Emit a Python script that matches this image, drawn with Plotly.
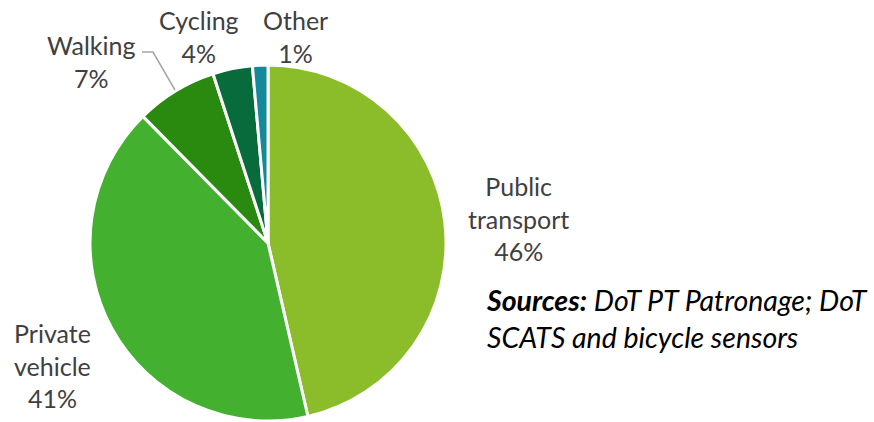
import plotly.graph_objects as go

categories = ["Public transport", "Private vehicle", "Walking", "Cycling", "Other"]
label_lines = [["Public", "transport"], ["Private", "vehicle"], ["Walking"], ["Cycling"], ["Other"]]
values = [46.4, 41.2, 7.4, 3.6, 1.4]
colors = ["#8BBC29", "#44B02F", "#2A8A10", "#086B3C", "#13899A"]
source_text = "<b>Sources:</b> DoT PT Patronage; DoT<br>SCATS and bicycle sensors"

W, H = 874, 422
total = sum(values)
pcts = [f"{round(v / total * 100)}%" for v in values]

# label centres in pixels (layout only)
label_pos = [(518, 218), (52, 365), (91, 62), (199, 36), (295, 36)]

fig = go.Figure(go.Pie(
    labels=categories, values=values, sort=False, direction="clockwise", rotation=0,
    marker=dict(colors=colors, line=dict(color="white", width=3)),
    textinfo="none", hoverinfo="label+percent",
    domain=dict(x=[90 / W, 446 / W], y=[1 / H, 357 / H]),
    showlegend=False,
))

px2x = lambda p: p / W
px2y = lambda p: 1 - p / H

annotations = []
for lines, pct, (cx, cy) in zip(label_lines, pcts, label_pos):
    annotations.append(dict(
        text="<br>".join(lines + [pct]), x=px2x(cx), y=px2y(cy), xref="paper", yref="paper",
        xanchor="center", yanchor="middle", showarrow=False, align="center",
        font=dict(family="Lato", size=25, color="#404040"),
    ))
annotations.append(dict(
    text=source_text, x=px2x(484), y=px2y(318), xref="paper", yref="paper",
    xanchor="left", yanchor="middle", showarrow=False, align="left",
    font=dict(family="Lato", size=28.5, color="#000000", style="italic"),
))

shapes = [dict(
    type="path", xref="paper", yref="paper",
    path=f"M {px2x(142)} {px2y(52)} L {px2x(153)} {px2y(52)} L {px2x(175)} {px2y(90)}",
    line=dict(color="#A6A6A6", width=1.5),
)]

fig.update_layout(
    width=W, height=H, margin=dict(l=0, r=0, t=0, b=0),
    paper_bgcolor="white", plot_bgcolor="white",
    annotations=annotations, shapes=shapes,
)

fig.write_html("out.html", config={"displayModeBar": False},
               post_script="document.body.style.margin='0';document.body.style.overflow='hidden';")
